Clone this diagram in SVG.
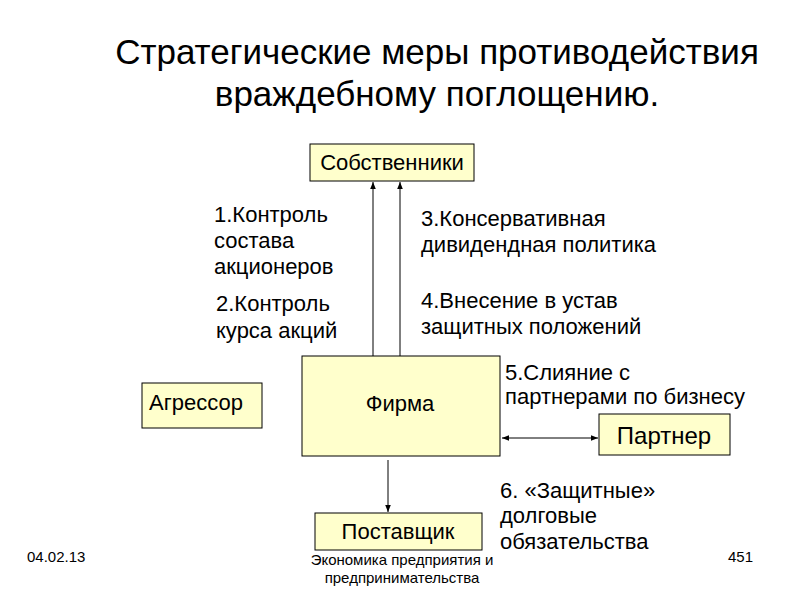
<svg xmlns="http://www.w3.org/2000/svg" width="800" height="600" viewBox="0 0 800 600">
<style>
text{font-family:"Liberation Sans",Arial,sans-serif;fill:#000}
.box{fill:#ffffcc;stroke:#000;stroke-width:1}
.lbl{font-size:22px}
.node{font-size:22px}
.ln{stroke:#000;stroke-width:1;fill:none}
.ft{font-size:15px}
</style>
<defs>
<marker id="a" viewBox="0 0 10 10" refX="10" refY="5" markerWidth="7" markerHeight="7" orient="auto-start-reverse"><path d="M0,1L10,5L0,9z" fill="#000"/></marker>
</defs>
<text x="437" y="64" font-size="35" text-anchor="middle">Стратегические меры противодействия</text>
<text x="437" y="106" font-size="35" text-anchor="middle">враждебному поглощению.</text>
<g id="connectors">
<line class="ln" x1="373" y1="356" x2="373" y2="182" marker-end="url(#a)"/>
<line class="ln" x1="400" y1="356" x2="400" y2="182" marker-end="url(#a)"/>
<line class="ln" x1="502" y1="438" x2="598" y2="438" marker-start="url(#a)" marker-end="url(#a)"/>
<line class="ln" x1="388" y1="460" x2="388" y2="512" marker-end="url(#a)"/>
</g>
<g id="owners"><rect class="box" x="310" y="144" width="164" height="37"/><text class="node" x="392" y="170" text-anchor="middle">Собственники</text></g>
<g id="firm"><rect class="box" x="302" y="356" width="198" height="100"/><text class="node" x="400" y="411" text-anchor="middle">Фирма</text></g>
<g id="aggressor"><rect class="box" x="142" y="383" width="120" height="45"/><text class="node" x="149" y="410">Агрессор</text></g>
<g id="partner"><rect class="box" x="599" y="414" width="131" height="41"/><text x="664" y="444" font-size="24" text-anchor="middle">Партнер</text></g>
<g id="supplier"><rect class="box" x="315" y="513" width="167" height="37"/><text class="node" x="398" y="539" text-anchor="middle">Поставщик</text></g>
<g id="labels" class="lbl">
<text x="214" y="222">1.Контроль</text>
<text x="214" y="248">состава</text>
<text x="214" y="274">акционеров</text>
<text x="216" y="311">2.Контроль</text>
<text x="216" y="338">курса акций</text>
<text x="421" y="226">3.Консервативная</text>
<text x="421" y="252">дивидендная политика</text>
<text x="421" y="308">4.Внесение в устав</text>
<text x="421" y="334">защитных положений</text>
<text x="505" y="380">5.Слияние с</text>
<text x="505" y="404">партнерами по бизнесу</text>
<text x="500" y="498">6. «Защитные»</text>
<text x="500" y="523">долговые</text>
<text x="500" y="549">обязательства</text>
</g>
<text class="ft" x="27" y="562">04.02.13</text>
<text class="ft" x="402" y="565" text-anchor="middle">Экономика предприятия и</text>
<text class="ft" x="402" y="583" text-anchor="middle">предпринимательства</text>
<text class="ft" x="753" y="562" text-anchor="end">451</text>
</svg>
